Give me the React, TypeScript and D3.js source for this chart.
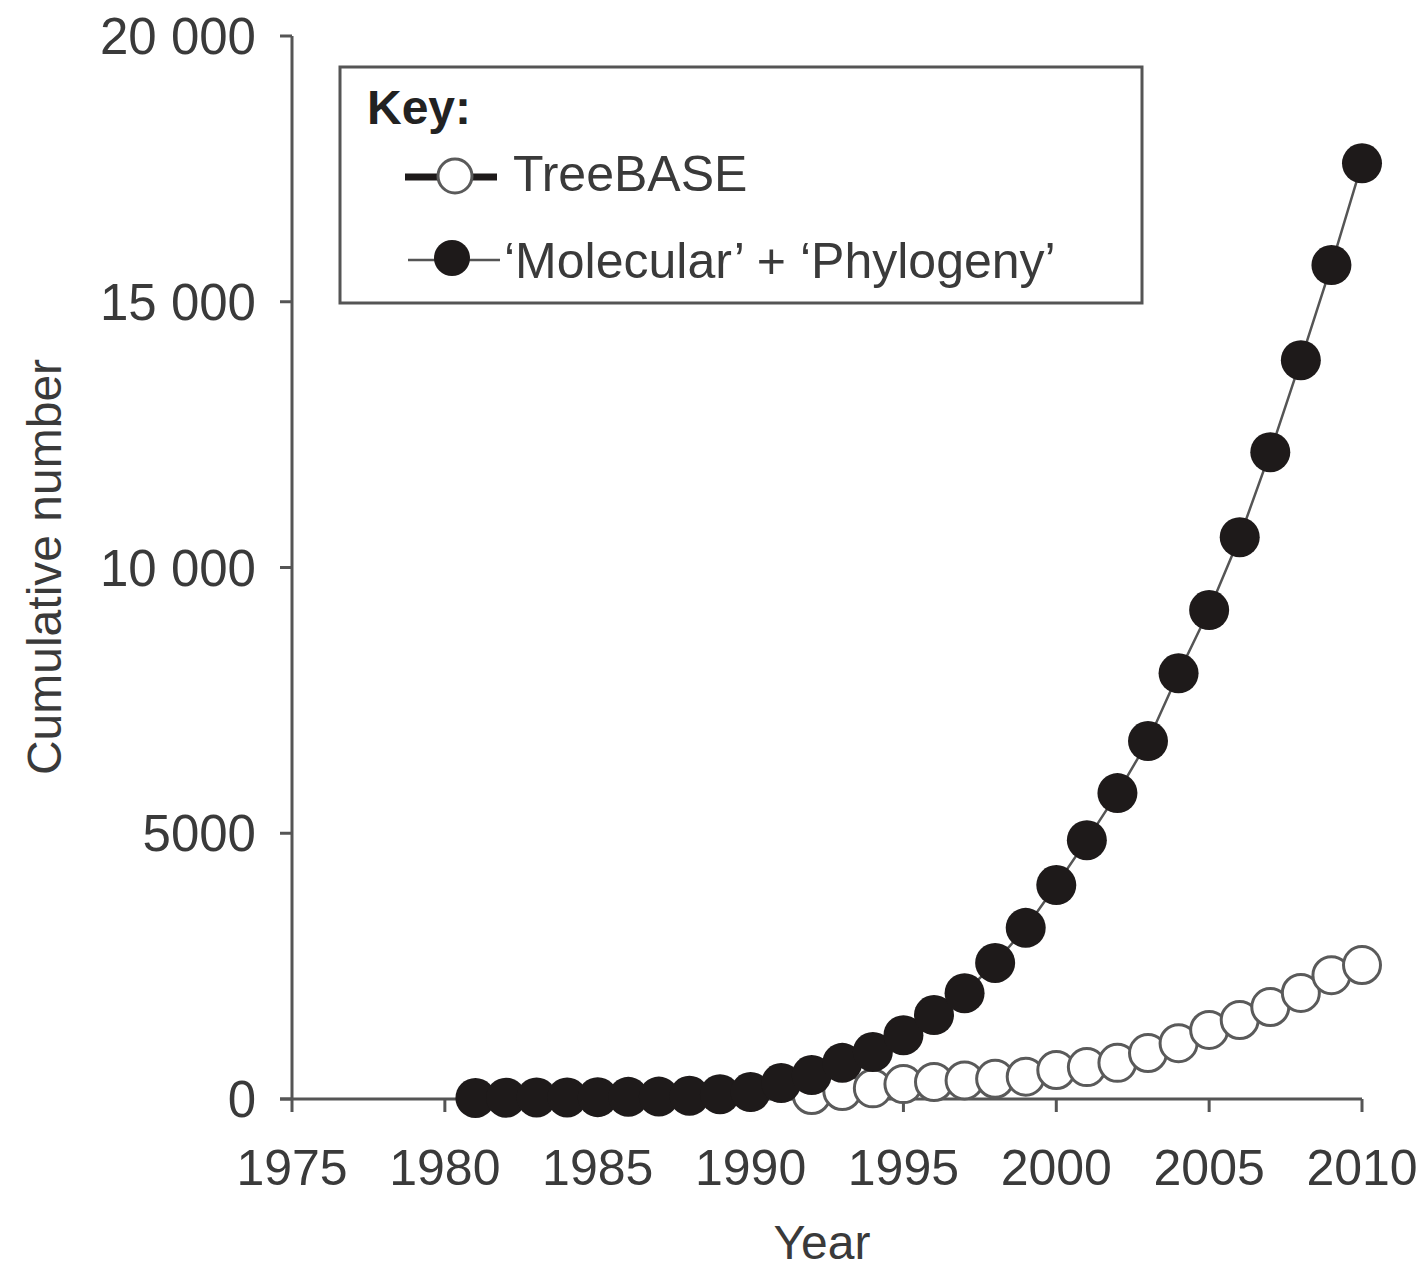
import React from "react";
import * as d3 from "d3";

const molYears = [1981, 1982, 1983, 1984, 1985, 1986, 1987, 1988, 1989, 1990, 1991, 1992, 1993, 1994, 1995, 1996, 1997, 1998, 1999, 2000, 2001, 2002, 2003, 2004, 2005, 2006, 2007, 2008, 2009, 2010];
const molValues = [20, 25, 30, 30, 35, 40, 45, 60, 90, 130, 300, 450, 680, 885, 1200, 1580, 1990, 2560, 3220, 4025, 4870, 5755, 6735, 8010, 9200, 10570, 12170, 13900, 15690, 17605];

const tbYears = [1992, 1993, 1994, 1995, 1996, 1997, 1998, 1999, 2000, 2001, 2002, 2003, 2004, 2005, 2006, 2007, 2008, 2009, 2010];
const tbValues = [75, 150, 200, 280, 320, 350, 380, 420, 545, 600, 680, 865, 1050, 1300, 1485, 1730, 1995, 2330, 2520];

const xTicks = [1975, 1980, 1985, 1990, 1995, 2000, 2005, 2010];
const yTicks = [0, 5000, 10000, 15000, 20000];
const yTickLabels = ["0", "5000", "10 000", "15 000", "20 000"];

const FONT = "'Liberation Sans', Arial, Helvetica, sans-serif";
const AXIS = "#555";
const TEXT = "#3a3a3a";

export default function App() {
  const x = d3.scaleLinear().domain([1975, 2010]).range([292, 1362]);
  const y = d3.scaleLinear().domain([0, 20000]).range([1099, 36]);

  const line = d3
    .line<[number, number]>()
    .x((d) => x(d[0]))
    .y((d) => y(d[1]));

  const molData: [number, number][] = molYears.map((yr, i) => [yr, molValues[i]]);
  const tbData: [number, number][] = tbYears.map((yr, i) => [yr, tbValues[i]]);

  return (
    <svg
      width={1427}
      height={1273}
      style={{ position: "absolute", left: 0, top: 0, background: "#fff" }}
      fontFamily={FONT}
    >
      <rect x={0} y={0} width={1427} height={1273} fill="#fff" />
      {/* axes */}
      <line x1={x(1975)} x2={x(1975)} y1={y(20000)} y2={y(0)} stroke={AXIS} strokeWidth={3} />
      <line x1={x(1975) - 12} x2={x(2010)} y1={y(0)} y2={y(0)} stroke={AXIS} strokeWidth={3} />
      {yTicks.map((t, i) => (
        <g key={"y" + t}>
          <line x1={x(1975) - 12} x2={x(1975)} y1={y(t)} y2={y(t)} stroke={AXIS} strokeWidth={3} />
          <text x={256} y={y(t) + 18} textAnchor="end" fontSize={51} fill={TEXT}>
            {yTickLabels[i]}
          </text>
        </g>
      ))}
      {xTicks.map((t) => (
        <g key={"x" + t}>
          <line x1={x(t)} x2={x(t)} y1={y(0)} y2={y(0) + 13} stroke={AXIS} strokeWidth={3} />
          <text x={x(t)} y={1185} textAnchor="middle" fontSize={50} fill={TEXT}>
            {t}
          </text>
        </g>
      ))}
      <text x={822} y={1259} textAnchor="middle" fontSize={48} fill={TEXT}>
        Year
      </text>
      <text
        transform="translate(61,567) rotate(-90)"
        textAnchor="middle"
        fontSize={48}
        fill={TEXT}
      >
        Cumulative number
      </text>

      {/* TreeBASE series (behind) */}
      <path d={line(tbData) || ""} fill="none" stroke={AXIS} strokeWidth={2.5} />
      {tbData.map((d) => (
        <circle key={"tb" + d[0]} cx={x(d[0])} cy={y(d[1])} r={18.5} fill="#fff" stroke="#5a5a5a" strokeWidth={3} />
      ))}

      {/* Molecular + Phylogeny series */}
      <path d={line(molData) || ""} fill="none" stroke={AXIS} strokeWidth={2.5} />
      {molData.map((d) => (
        <circle key={"m" + d[0]} cx={x(d[0])} cy={y(d[1])} r={20} fill="#1e1a1a" />
      ))}

      {/* legend */}
      <rect x={340} y={67} width={802} height={236} fill="#fff" stroke={AXIS} strokeWidth={3} />
      <text x={367} y={124} fontSize={48} fontWeight="bold" fill="#222">
        Key:
      </text>
      <line x1={405} x2={497} y1={177} y2={177} stroke="#1e1a1a" strokeWidth={7} />
      <circle cx={455} cy={176} r={17} fill="#fff" stroke="#5a5a5a" strokeWidth={3} />
      <text x={513} y={191} fontSize={50} fill={TEXT}>
        TreeBASE
      </text>
      <line x1={408} x2={500} y1={260} y2={260} stroke={AXIS} strokeWidth={2.5} />
      <circle cx={452} cy={258} r={18} fill="#1e1a1a" />
      <text x={504} y={278} fontSize={50} fill={TEXT}>
        ‘Molecular’ + ‘Phylogeny’
      </text>
    </svg>
  );
}
